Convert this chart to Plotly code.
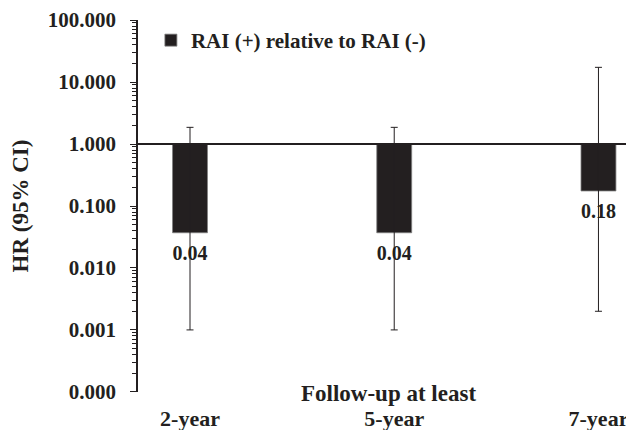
import plotly.graph_objects as go

categories = ["2-year", "5-year", "7-year"]
hr = [0.037, 0.037, 0.175]
hr_labels = ["0.04", "0.04", "0.18"]
ci_low = [0.001, 0.001, 0.002]
ci_high = [1.86, 1.86, 17.3]
y_ticks = [0.0001, 0.001, 0.01, 0.1, 1, 10, 100]

FONT = "Liberation Serif, Times New Roman, serif"
BAR = "#231f20"

x_pos = list(range(len(categories)))

fig = go.Figure()
fig.add_trace(go.Bar(
    x=x_pos, y=[v - 1 for v in hr], base=[1] * len(hr),
    width=0.171, marker=dict(color=BAR, line=dict(color="#7f7f7f", width=0.8)),
    name="RAI (+) relative to RAI (-)", showlegend=True, hoverinfo="skip",
))
fig.add_trace(go.Scatter(
    x=x_pos, y=hr, mode="markers+text", marker=dict(size=18, opacity=0),
    text=hr_labels, textposition="bottom center", cliponaxis=False,
    textfont=dict(family=FONT, size=20, color="#231f20", weight="bold"),
    error_y=dict(type="data", symmetric=False,
                 array=[h - v for h, v in zip(ci_high, hr)],
                 arrayminus=[v - l for v, l in zip(hr, ci_low)],
                 color="#231f20", thickness=1, width=3.5),
    showlegend=False, hoverinfo="skip",
))

fig.add_shape(type="line", xref="paper", yref="y", x0=0, x1=1, y0=1, y1=1,
              line=dict(color="#231f20", width=2), layer="above")

fig.add_annotation(text="Follow-up at least", xref="x", yref="paper", x=0.97, y=0,
                   yshift=-1, yanchor="middle", showarrow=False,
                   font=dict(family=FONT, size=23, color="#231f20", weight="bold"))

# page body has an 8px default margin: figure is offset by 8px right/down
fig.update_layout(
    width=626, height=422,
    margin=dict(l=130, r=0, t=12, b=38),
    plot_bgcolor="white", paper_bgcolor="white",
    font=dict(family=FONT, color="#231f20", size=21, weight="bold"),
    showlegend=True,
    legend=dict(x=0.026, y=1.0, xanchor="left", yanchor="top",
                bgcolor="rgba(0,0,0,0)", font=dict(size=21, weight="bold"),
                itemwidth=30),
    xaxis=dict(range=[-0.2546, 2.174], tickvals=x_pos, ticktext=categories,
               showline=False, showgrid=False, zeroline=False, automargin=False,
               ticks="outside", ticklen=7, tickcolor="rgba(0,0,0,0)",
               tickfont=dict(size=22, family=FONT, weight="bold")),
    yaxis=dict(type="log", range=[-4.002, 2.002], tickvals=y_ticks, tickformat=".3f",
               automargin=False,
               showline=True, linecolor="#231f20", linewidth=1.5,
               ticks="outside", ticklen=6, tickcolor="#231f20", tickwidth=1.2,
               minor=dict(dtick="D1", ticks="outside", ticklen=4, tickcolor="#231f20", tickwidth=1, showgrid=False),
               showgrid=False, zeroline=False, ticklabelstandoff=10,
               ticklabeloverflow="allow",
               title=dict(text="HR (95% CI)", standoff=16,
                          font=dict(size=23, family=FONT, weight="bold")),
               tickfont=dict(size=21, family=FONT, weight="bold")),
)

fig.write_html("out.html")
